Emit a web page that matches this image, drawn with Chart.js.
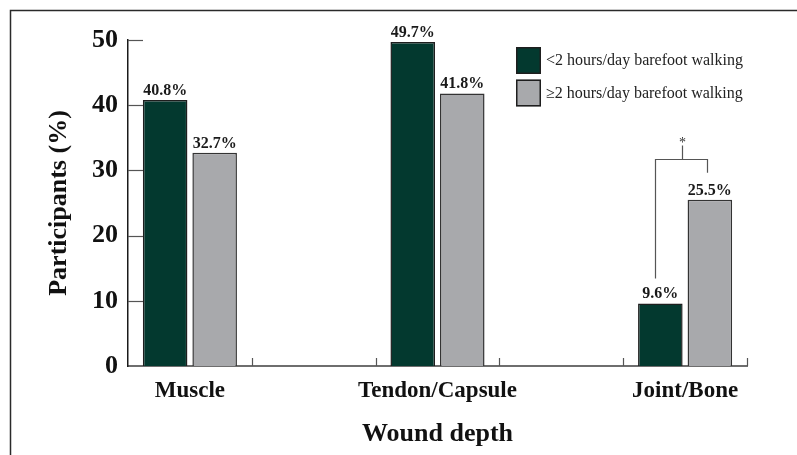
<!DOCTYPE html>
<html>
<head>
<meta charset="utf-8">
<script src="https://cdn.jsdelivr.net/npm/chart.js"></script>
<style>
  html, body { margin: 0; padding: 0; background: #fff; }
  canvas { display: block; }
</style>
</head>
<body>
<canvas id="myChart" width="797" height="455"></canvas>
<script>
const categories = ['Muscle', 'Tendon/Capsule', 'Joint/Bone'];
const lessThan2h = [40.8, 49.7, 9.6];
const atLeast2h = [32.7, 41.8, 25.5];
const seriesNames = ['<2 hours/day barefoot walking', '\u22652 hours/day barefoot walking'];
const yTicks = [0, 10, 20, 30, 40, 50];
const significant = [{ category: 'Joint/Bone', mark: '*' }];

// the figure leaves an empty slot between categories
const slots = [];
categories.forEach((c, i) => { if (i > 0) slots.push(''); slots.push(c); });
const spread = arr => {
  const out = [];
  arr.forEach((v, i) => { if (i > 0) out.push(null); out.push(v); });
  return out;
};

const SERIF = '"Liberation Serif", "DejaVu Serif", serif';
const GREEN = '#03392f';
const GREY = '#a8a9ac';
const EDGE = '#1e1e1e';

const framePlugin = {
  id: 'frame',
  beforeDraw(chart) {
    const ctx = chart.ctx;
    ctx.save();
    ctx.strokeStyle = '#2a2a2a';
    ctx.lineWidth = 1.5;
    ctx.beginPath();
    ctx.moveTo(10.5, chart.height + 2);
    ctx.lineTo(10.5, 10.5);
    ctx.lineTo(chart.width + 2, 10.5);
    ctx.stroke();
    ctx.restore();
  }
};

const tickMarks = {
  id: 'tickMarks',
  afterDraw(chart) {
    const ctx = chart.ctx;
    const area = chart.chartArea;
    const x = chart.scales.x, y = chart.scales.y;
    ctx.save();
    ctx.strokeStyle = '#555';
    ctx.lineWidth = 1.2;
    yTicks.forEach(v => {
      if (v === 0) return;
      const py = Math.round(y.getPixelForValue(v)) + 0.5;
      ctx.beginPath();
      ctx.moveTo(area.left, py);
      ctx.lineTo(area.left + 15, py);
      ctx.stroke();
    });
    const w = x.getPixelForValue(1) - x.getPixelForValue(0);
    for (let i = 0; i < slots.length; i++) {
      const px = Math.round(x.getPixelForValue(i) + w / 2) + 0.5;
      ctx.beginPath();
      ctx.moveTo(px, area.bottom);
      ctx.lineTo(px, area.bottom - 8);
      ctx.stroke();
    }
    ctx.restore();
  }
};

const valueLabels = {
  id: 'valueLabels',
  afterDatasetsDraw(chart) {
    const ctx = chart.ctx;
    ctx.save();
    ctx.font = 'bold 16px ' + SERIF;
    ctx.fillStyle = '#1a1a1a';
    ctx.textAlign = 'center';
    ctx.textBaseline = 'alphabetic';
    chart.data.datasets.forEach((ds, di) => {
      chart.getDatasetMeta(di).data.forEach((el, i) => {
        const v = ds.data[i];
        if (v === null) return;
        ctx.fillText(v.toFixed(1) + '%', el.x, el.y - 5);
      });
    });
    ctx.restore();
  }
};

const sigBracket = {
  id: 'sigBracket',
  afterDatasetsDraw(chart) {
    const ctx = chart.ctx;
    const m0 = chart.getDatasetMeta(0), m1 = chart.getDatasetMeta(1);
    ctx.save();
    ctx.strokeStyle = '#555';
    ctx.lineWidth = 1.2;
    significant.forEach(s => {
      const i = slots.indexOf(s.category);
      const a = m0.data[i], b = m1.data[i];
      const lx = Math.round(a.x - 5) + 0.5, rx = Math.round(b.x - 3) + 0.5;
      const top = Math.round(Math.min(a.y, b.y) - 41) + 0.5;
      const mid = Math.round((lx + rx) / 2) + 0.5;
      ctx.beginPath();
      ctx.moveTo(lx, a.y - 25);
      ctx.lineTo(lx, top);
      ctx.lineTo(rx, top);
      ctx.lineTo(rx, b.y - 27);
      ctx.moveTo(mid, top);
      ctx.lineTo(mid, top - 14);
      ctx.stroke();
      ctx.font = '14px ' + SERIF;
      ctx.fillStyle = '#333';
      ctx.textAlign = 'center';
      ctx.textBaseline = 'alphabetic';
      ctx.fillText(s.mark, mid, top - 13);
    });
    ctx.restore();
  }
};

const boxLegend = {
  id: 'boxLegend',
  afterDraw(chart) {
    const ctx = chart.ctx;
    const bx = chart.chartArea.right - 231;
    ctx.save();
    ctx.font = '16px ' + SERIF;
    ctx.textBaseline = 'middle';
    ctx.textAlign = 'left';
    chart.data.datasets.forEach((ds, i) => {
      const by = 47 + i * 32.5;
      ctx.fillStyle = ds.backgroundColor;
      ctx.fillRect(bx, by, 25, 27);
      ctx.strokeStyle = EDGE;
      ctx.lineWidth = 1.5;
      ctx.strokeRect(bx + 0.75, by + 0.75, 23.5, 25.5);
      ctx.fillStyle = '#222';
      ctx.fillText(ds.label, bx + 30, by + 14);
    });
    ctx.restore();
  }
};

const ctx = document.getElementById('myChart').getContext('2d');

new Chart(ctx, {
  type: 'bar',
  data: {
    labels: slots,
    datasets: [
      {
        label: seriesNames[0],
        data: spread(lessThan2h),
        backgroundColor: GREEN,
        borderColor: EDGE,
        borderWidth: 1.5,
        borderSkipped: 'bottom'
      },
      {
        label: seriesNames[1],
        data: spread(atLeast2h),
        backgroundColor: GREY,
        borderColor: '#333',
        borderWidth: 1.5,
        borderSkipped: 'bottom'
      }
    ]
  },
  options: {
    responsive: false,
    animation: false,
    devicePixelRatio: 1,
    layout: { padding: { left: 0, top: 40, right: 50, bottom: 0 } },
    plugins: {
      legend: { display: false },
      tooltip: { enabled: false }
    },
    datasets: {
      bar: { categoryPercentage: 0.8, barPercentage: 0.9 }
    },
    scales: {
      x: {
        offset: true,
        grid: { display: false, drawTicks: false },
        border: { display: true, color: '#6e6e6e', width: 2 },
        ticks: {
          autoSkip: false,
          maxRotation: 0,
          padding: 11,
          color: '#111',
          font: { family: SERIF, size: 23, weight: 'bold' }
        },
        title: {
          display: true,
          text: 'Wound depth',
          color: '#111',
          padding: { top: 0, bottom: 5 },
          font: { family: SERIF, size: 26, weight: 'bold' }
        },
        afterFit: s => { s.height = 89; }
      },
      y: {
        min: 0,
        max: 50,
        grid: { display: false, drawTicks: false },
        border: { display: true, color: '#1a1a1a', width: 1.5 },
        afterBuildTicks: s => { s.ticks = yTicks.map(v => ({ value: v })); },
        ticks: {
          padding: 10,
          color: '#111',
          font: { family: SERIF, size: 26, weight: 'bold' }
        },
        title: {
          display: true,
          text: 'Participants (%)',
          color: '#111',
          padding: { top: 44, bottom: 0 },
          font: { family: SERIF, size: 26, weight: 'bold' }
        },
        afterFit: s => { s.width = 128; }
      }
    }
  },
  plugins: [framePlugin, tickMarks, valueLabels, sigBracket, boxLegend]
});
</script>
</body>
</html>
